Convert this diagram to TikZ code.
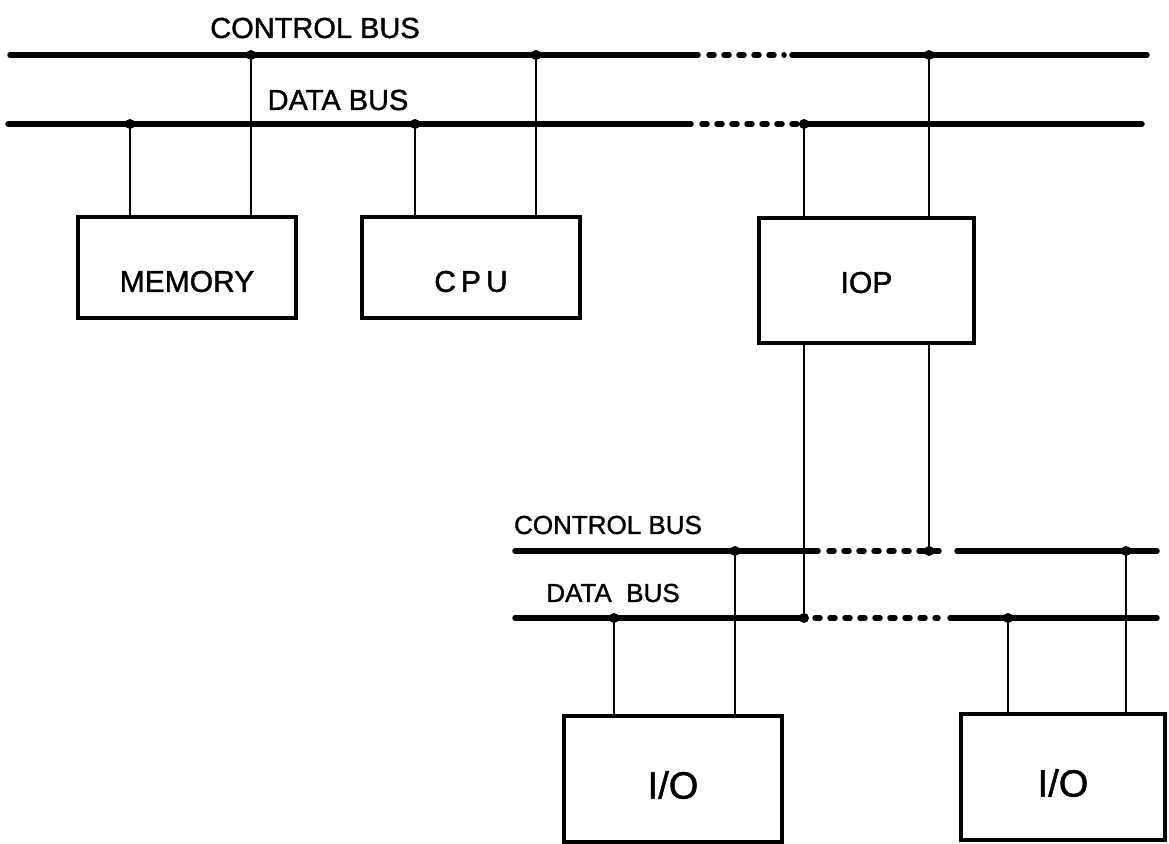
\documentclass[tikz,border=0pt]{standalone}
\usepackage{fontspec}
\setmainfont{Liberation Sans}[FakeBold=1.3]
\begin{document}
\begin{tikzpicture}[x=1pt,y=-1pt,
 bus/.style={line width=5.5pt, line cap=round},
 busdash/.style={line width=5.5pt, line cap=round, dash pattern=on 5pt off 10pt},
 wire/.style={line width=2.4pt},
 box/.style={draw, line width=4.3pt, rectangle, inner sep=0pt},
 jdot/.style={circle, fill, inner sep=0pt, minimum size=10pt},
 lbl/.style={font=\fontsize{29}{31}\selectfont, inner sep=0pt},
 lbls/.style={font=\fontsize{26}{28}\selectfont, inner sep=0pt},
 boxtxt/.style={font=\fontsize{30}{32}\selectfont},
 iotxt/.style={font=\fontsize{38}{40}\selectfont},
]
\useasboundingbox (0,0) rectangle (1169,843);

% ---- upper buses
\draw[bus] (10,55) -- (698,55);
\draw[busdash] (709,55) -- (784,55);
\draw[bus] (792,55) -- (1147,55);
\draw[bus] (8,124) -- (691,124);
\draw[busdash] (702,124) -- (798,124);
\draw[bus] (804,124) -- (1142,124);

\node[lbl] (tcl) at (315,28) {CONTROL BUS};
\node[lbl] (tdl) at (338,100) {DATA BUS};

% junctions upper
\node[jdot] (c1) at (251,55) {};
\node[jdot] (c2) at (536,55) {};
\node[jdot] (c3) at (929,55) {};
\node[jdot] (d1) at (130,124) {};
\node[jdot] (d2) at (415,124) {};
\node[jdot] (d3) at (804,124) {};

% boxes upper
\node[box, minimum width=218pt, minimum height=101pt,
      label={[boxtxt, yshift=-14pt]center:MEMORY}] (mem) at (187,267.5) {};
\node[box, minimum width=218pt, minimum height=101pt,
      label={[boxtxt, yshift=-14pt]center:C\,P\,U}] (cpu) at (471,267.5) {};
\node[box, minimum width=215pt, minimum height=125pt,
      label={[boxtxt, yshift=-2pt]center:IOP}] (iop) at (866.5,280.5) {};

\draw[wire] (d1.center) -- (d1 |- mem.north);
\draw[wire] (c1.center) -- (c1 |- mem.north);
\draw[wire] (d2.center) -- (d2 |- cpu.north);
\draw[wire] (c2.center) -- (c2 |- cpu.north);
\draw[wire] (d3.center) -- (d3 |- iop.north);
\draw[wire] (c3.center) -- (c3 |- iop.north);

% ---- lower buses
\draw[bus] (515,551) -- (818,551);
\draw[busdash] (829,551) -- (948,551);
\draw[bus] (957,551) -- (1157,551);
\draw[bus] (515,618) -- (804,618);
\draw[busdash] (815,618) -- (938,618);
\draw[bus] (950,618) -- (1157,618);

\node[lbls] (bcl) at (608,525) {CONTROL BUS};
\node[lbls] (bdl) at (613,593) {DATA\ \ BUS};

\node[jdot] (lc1) at (735,551) {};
\node[jdot] (lc2) at (929,551) {};
\node[jdot] (lc3) at (1126,551) {};
\node[jdot] (ld1) at (614,618) {};
\node[jdot] (ld2) at (804,618) {};
\node[jdot] (ld3) at (1008,618) {};

\draw[wire] (ld2 |- iop.south) -- (ld2.center);
\draw[wire] (lc2 |- iop.south) -- (lc2.center);

\node[box, minimum width=218pt, minimum height=126pt,
      label={[iotxt, yshift=-6pt]center:I/O}] (io1) at (673,779) {};
\node[box, minimum width=204pt, minimum height=126pt,
      label={[iotxt, yshift=-6pt]center:I/O}] (io2) at (1063,777) {};

\draw[wire] (ld1.center) -- (ld1 |- io1.north);
\draw[wire] (lc1.center) -- (lc1 |- io1.north);
\draw[wire] (ld3.center) -- (ld3 |- io2.north);
\draw[wire] (lc3.center) -- (lc3 |- io2.north);
\end{tikzpicture}
\end{document}
